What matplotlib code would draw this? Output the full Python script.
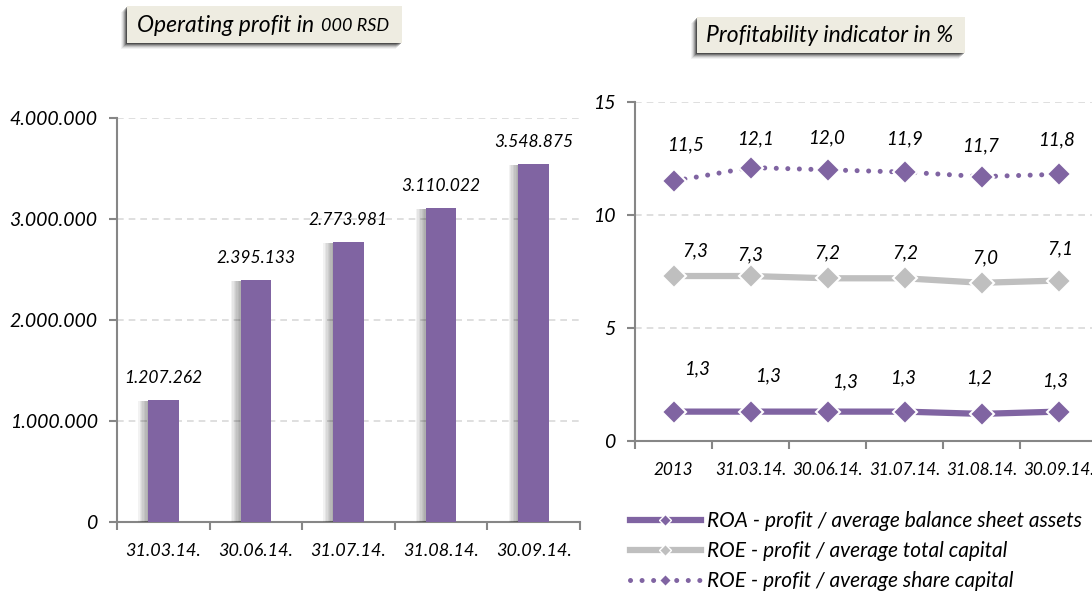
import matplotlib
matplotlib.use('Agg')
import matplotlib.pyplot as plt
import matplotlib.patheffects as pe
from matplotlib.patches import Rectangle
from matplotlib.lines import Line2D
from matplotlib.ticker import FuncFormatter, FixedLocator

plt.rcParams['font.family'] = ['Lato', 'DejaVu Sans']
plt.rcParams['font.style'] = 'italic'

# operating profit, 000 RSD
profit_dates = ['31.03.14.', '30.06.14.', '31.07.14.', '31.08.14.', '30.09.14.']
operating_profit = [1207262, 2395133, 2773981, 3110022, 3548875]

# profitability indicators, %
ratio_dates = ['2013', '31.03.14.', '30.06.14.', '31.07.14.', '31.08.14.', '30.09.14.']
roa = [1.3, 1.3, 1.3, 1.3, 1.2, 1.3]
roe_total = [7.3, 7.3, 7.2, 7.2, 7.0, 7.1]
roe_share = [11.5, 12.1, 12.0, 11.9, 11.7, 11.8]

series_names = ['ROA - profit / average balance sheet assets',
                'ROE - profit / average total capital',
                'ROE - profit / average share capital']

PURPLE = '#8064A2'
GREY = '#BFBFBF'
AXIS = '#868686'
GRID = '#D9D9D9'
BOX = '#EEECE1'
DOTS = (0, (0.01, 2.3))

W, H = 1092, 592
fig = plt.figure(figsize=(W / 100, H / 100), dpi=100)


def px_axes(x0, y0, x1, y1):
    # axes placed by pixel box (top-left origin)
    return fig.add_axes([x0 / W, 1 - y1 / H, (x1 - x0) / W, (y1 - y0) / H])


def dotted(v):
    return f'{v:,}'.replace(',', '.')


def comma(v):
    return f'{v:.1f}'.replace('.', ',')


def style_axes(ax, n, xsize):
    for s in ('top', 'right'):
        ax.spines[s].set_visible(False)
    for s in ('left', 'bottom'):
        ax.spines[s].set_color(AXIS)
        ax.spines[s].set_linewidth(1.5)
    ax.set_xlim(-0.5, n - 0.5)
    ax.set_xticks(range(n))
    ax.xaxis.set_minor_locator(FixedLocator([i - 0.5 for i in range(n + 1)]))
    ax.tick_params(axis='x', which='major', length=0, pad=15, labelsize=xsize)
    ax.tick_params(axis='x', which='minor', length=6, width=1.5, color=AXIS)
    ax.tick_params(axis='y', length=6, width=1.5, color=AXIS, labelsize=14, pad=8)
    ax.yaxis.grid(True, color=GRID, linestyle=(0, (4, 3)), linewidth=1.2)
    ax.set_axisbelow(True)


def title_box(x0, y0, x1, y1):
    # shadowed label panel, pixel coords from the top-left corner
    for k, a in zip(range(6, 0, -1), (0.05, 0.08, 0.12, 0.18, 0.25, 0.35)):
        fig.patches.append(Rectangle(((x0 - k) / W, 1 - (y1 + k) / H),
                                     (x1 - x0) / W, (y1 - y0) / H,
                                     transform=fig.transFigure, fc='black',
                                     ec='none', alpha=a))
    fig.patches.append(Rectangle((x0 / W, 1 - y1 / H), (x1 - x0) / W, (y1 - y0) / H,
                                 transform=fig.transFigure, fc=BOX, ec='none'))


# left: operating profit bars
ax1 = px_axes(117, 118, 580, 522)
style_axes(ax1, len(profit_dates), 13)
ax1.set_ylim(0, 4000000)
ax1.set_yticks([0, 1000000, 2000000, 3000000, 4000000])
ax1.yaxis.set_major_formatter(FuncFormatter(lambda v, p: dotted(int(v))))
ax1.set_xticklabels(profit_dates)
bars = ax1.bar(range(len(profit_dates)), operating_profit, width=0.33, color=PURPLE,
               zorder=3)
# soft shadow fading out to the left of each bar
soft = [pe.SimplePatchShadow(offset=(-k, -1), shadow_rgbFace='black', alpha=0.05)
        for k in range(7, 0, -1)]
for b in bars:
    b.set_path_effects(soft + [pe.Normal()])
for i, v in enumerate(operating_profit):
    ax1.annotate(dotted(v), (i, v), xytext=(0, 22), textcoords='offset pixels',
                 ha='center', va='center', fontsize=12.5)

title_box(127, 6, 402, 43)
fig.text(137 / W, 1 - 25 / H, 'Operating profit in ', fontsize=16.5, va='center')
fig.text(321 / W, 1 - 26 / H, '000 RSD', fontsize=13, va='center')

# right: profitability lines
ax2 = px_axes(635, 102, 1097, 441)
style_axes(ax2, len(ratio_dates), 12.3)
ax2.set_ylim(0, 15)
ax2.set_yticks([0, 5, 10, 15])
ax2.set_xticklabels(ratio_dates)

x = range(len(ratio_dates))
marker = dict(marker='D', ms=12.5, mec='white', mew=1.5, zorder=4, clip_on=False)
ax2.plot(x, roa, color=PURPLE, lw=4.5, mfc=PURPLE, **marker)
ax2.plot(x, roe_total, color=GREY, lw=4.5, mfc=GREY, **marker)
ax2.plot(x, roe_share, color=PURPLE, lw=3.6, ls=DOTS, dash_capstyle='round',
         mfc=PURPLE, **marker)

# hand-placed label nudges (pixels)
share_off = [(12, 36), (5, 29), (-1, 32), (0, 33), (-1, 31), (-2, 34)]
total_off = [(22, 25), (0, 21), (0, 25), (1, 25), (4, 25), (2, 32)]
roa_off = [(24, 43), (18, 36), (18, 30), (-1, 34), (-2, 36), (-3, 31)]
for vals, offs in ((roe_share, share_off), (roe_total, total_off), (roa, roa_off)):
    for i, (v, o) in enumerate(zip(vals, offs)):
        ax2.annotate(comma(v), (i, v), xytext=o, textcoords='offset pixels',
                     ha='center', va='center', fontsize=13.5)

title_box(697, 17, 965, 53)
fig.text(706 / W, 1 - 36 / H, 'Profitability indicator in %', fontsize=16.5,
         va='center')

handles = [
    Line2D([], [], color=PURPLE, lw=4.5, marker='D', ms=6, mfc=PURPLE, mec='white'),
    Line2D([], [], color=GREY, lw=4.5, marker='D', ms=6, mfc=GREY, mec='white'),
    Line2D([], [], color=PURPLE, lw=3.6, ls=DOTS, dash_capstyle='round',
           marker='D', ms=6, mfc=PURPLE, mec='white'),
]
fig.legend(handles, series_names, loc='upper left', bbox_to_anchor=(630 / W, 1 - 511 / H),
           frameon=False, fontsize=15, handlelength=3.4, handletextpad=0.3,
           labelspacing=0.48, borderpad=0, borderaxespad=0)

fig.savefig('out.png', dpi=100)
